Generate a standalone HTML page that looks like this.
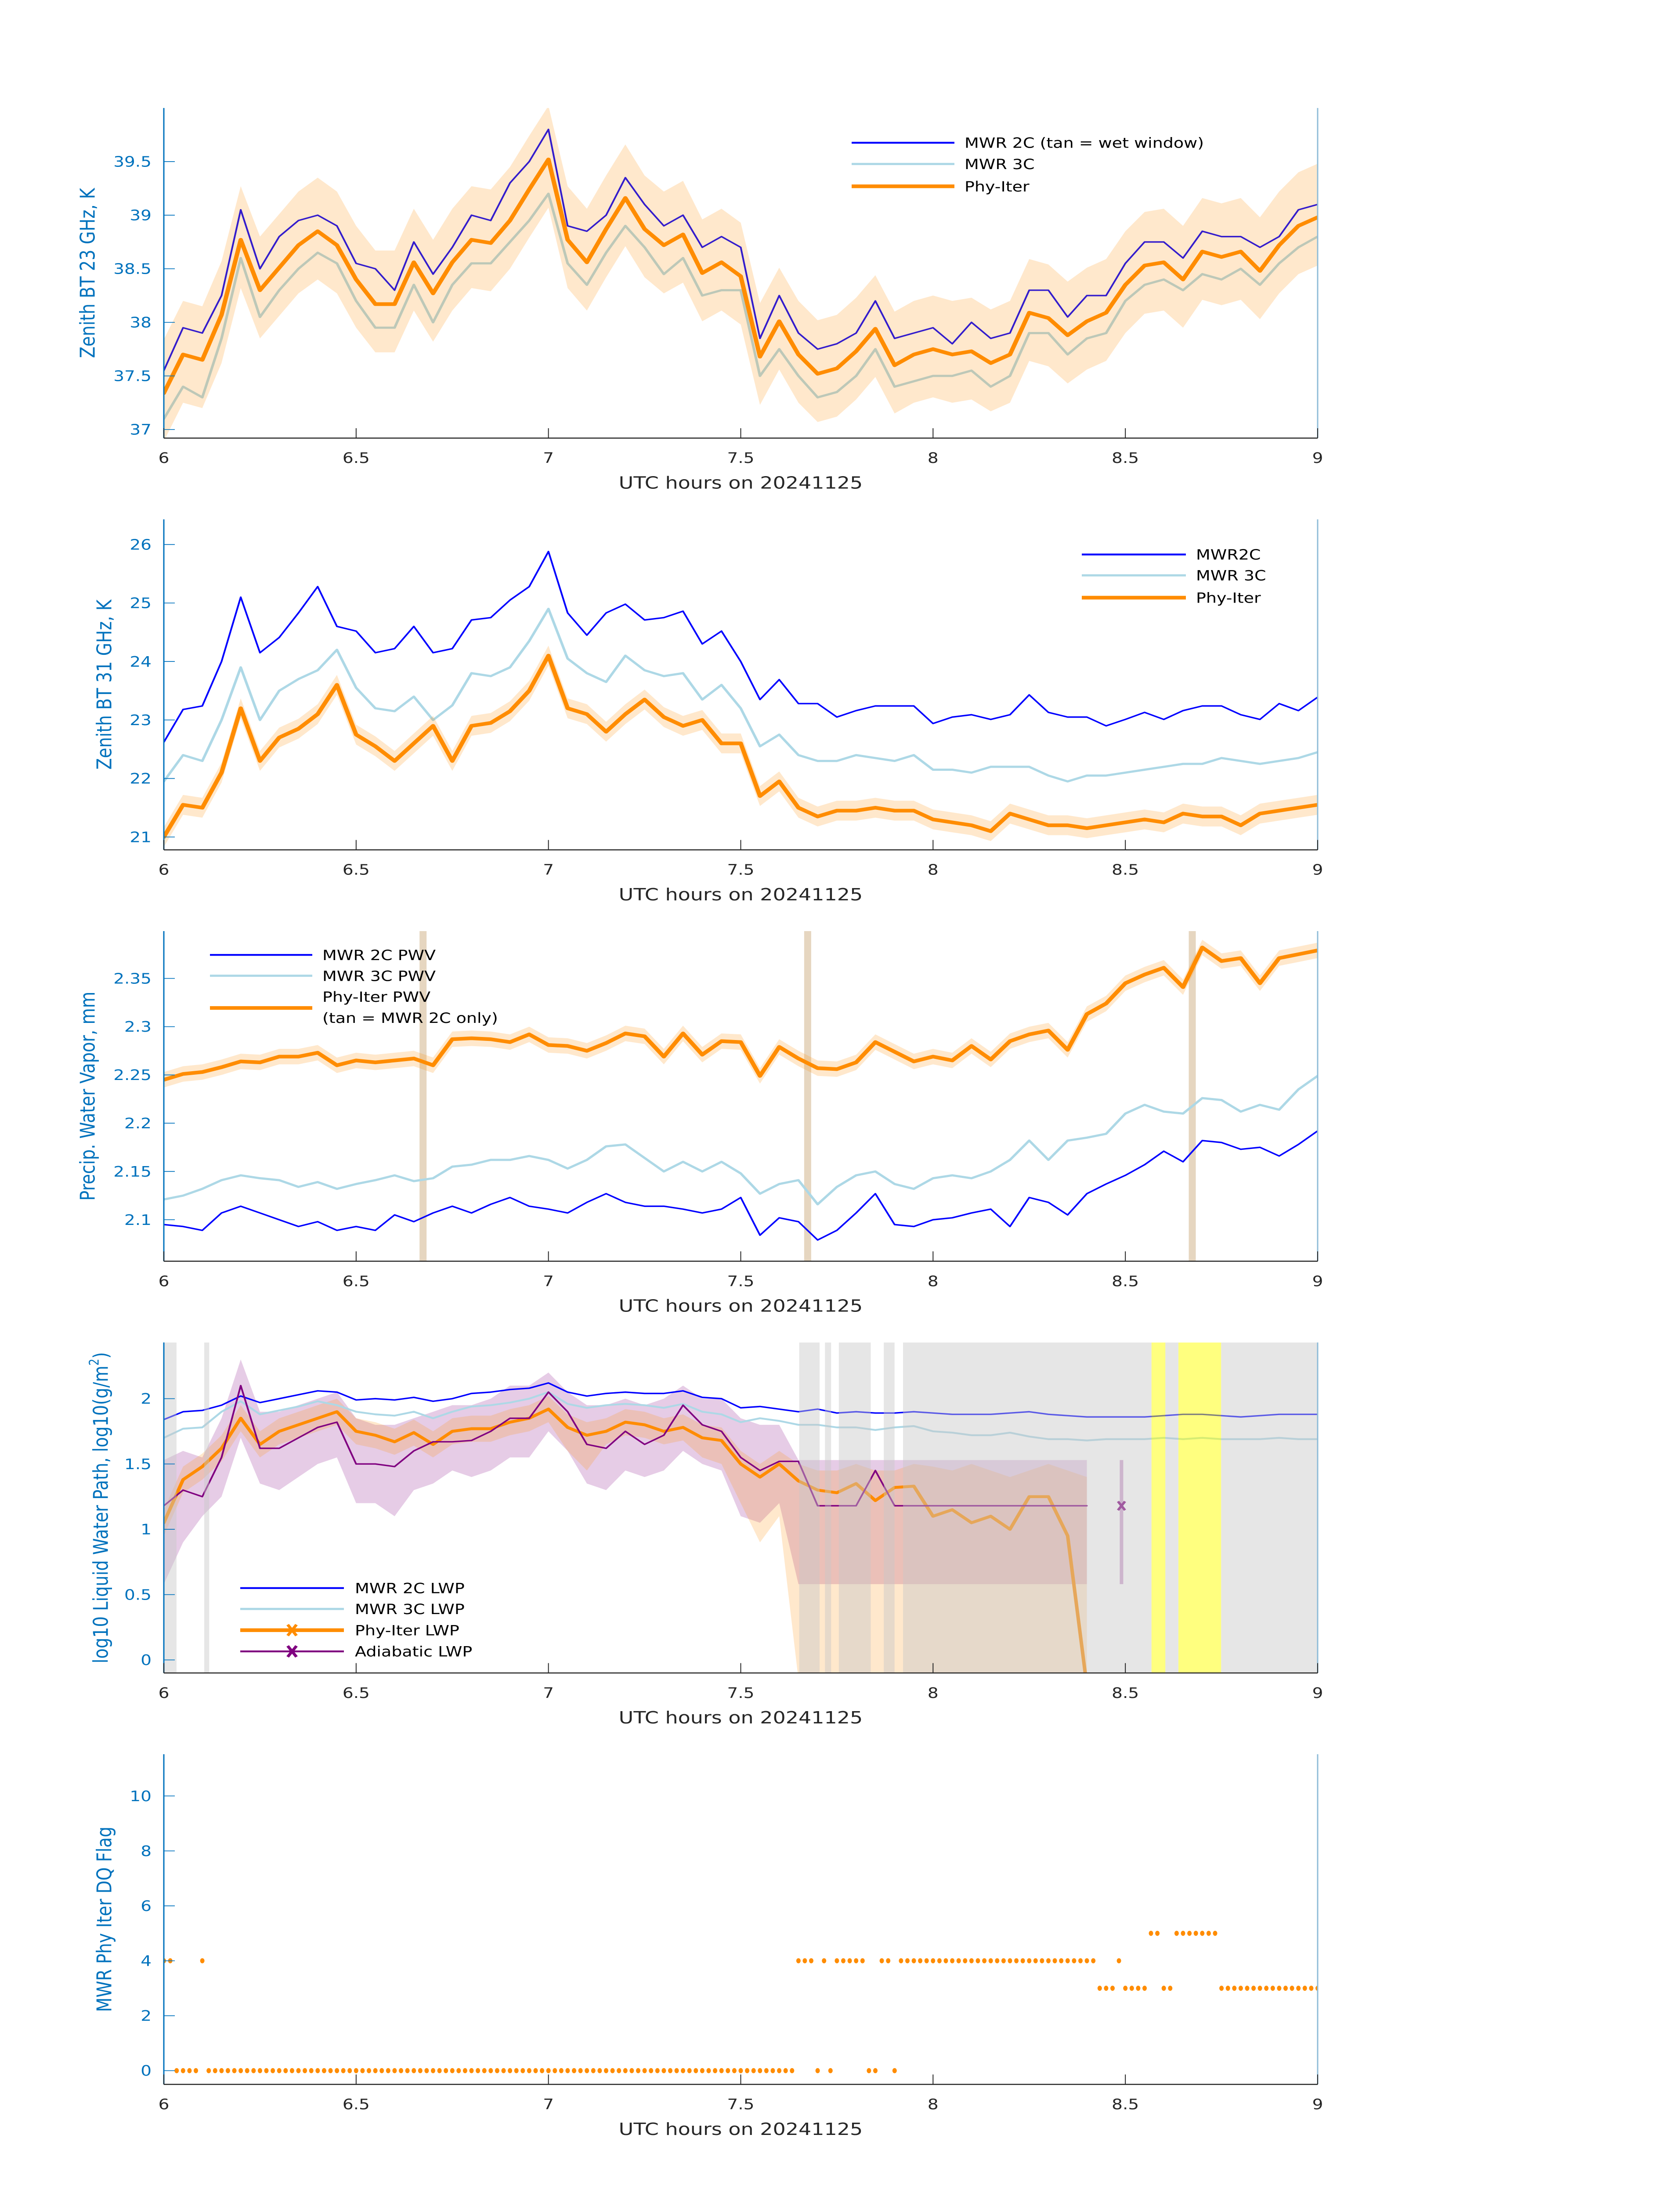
<!DOCTYPE html>
<html><head><meta charset="utf-8"><style>
html,body{margin:0;padding:0;background:#fff;width:100%;height:100%;overflow:hidden;}
svg{display:block;position:fixed;left:0;top:0;width:100vw;height:100vh;font-family:"DejaVu Sans","Liberation Sans",sans-serif;}
</style></head><body>
<svg id="fig" xmlns="http://www.w3.org/2000/svg" viewBox="0 0 3825 6000" preserveAspectRatio="none"></svg>
<script>
// ---------------- DATA (time grid: 6.00 .. 9.00 h every 0.05 h, 61 samples) ----------------
const p1Mwr2c = [37.55,37.95,37.9,38.25,39.05,38.5,38.8,38.95,39.0,38.9,38.55,38.5,38.3,38.75,38.45,38.7,39.0,38.95,39.3,39.5,39.8,38.9,38.85,39.0,39.35,39.1,38.9,39.0,38.7,38.8,38.7,37.85,38.25,37.9,37.75,37.8,37.9,38.2,37.85,37.9,37.95,37.8,38.0,37.85,37.9,38.3,38.3,38.05,38.25,38.25,38.55,38.75,38.75,38.6,38.85,38.8,38.8,38.7,38.8,39.05,39.1];
const p1Mwr3c = [37.1,37.4,37.3,37.85,38.6,38.05,38.3,38.5,38.65,38.55,38.2,37.95,37.95,38.35,38.0,38.35,38.55,38.55,38.75,38.95,39.2,38.55,38.35,38.65,38.9,38.7,38.45,38.6,38.25,38.3,38.3,37.5,37.75,37.5,37.3,37.35,37.5,37.75,37.4,37.45,37.5,37.5,37.55,37.4,37.5,37.9,37.9,37.7,37.85,37.9,38.2,38.35,38.4,38.3,38.45,38.4,38.5,38.35,38.55,38.7,38.8];
const p1Phy = [37.34,37.7,37.65,38.07,38.77,38.3,38.51,38.72,38.85,38.72,38.4,38.17,38.17,38.56,38.27,38.56,38.77,38.74,38.95,39.24,39.52,38.77,38.56,38.87,39.16,38.87,38.72,38.82,38.46,38.56,38.43,37.68,38.01,37.7,37.52,37.57,37.73,37.94,37.6,37.7,37.75,37.7,37.73,37.62,37.7,38.09,38.04,37.88,38.01,38.09,38.35,38.53,38.56,38.4,38.66,38.61,38.66,38.48,38.72,38.9,38.98];
const p1UncLo = 0.45, p1UncHi = 0.5;

const p2Mwr2c = [22.62,23.18,23.24,24.0,25.1,24.15,24.41,24.83,25.28,24.6,24.52,24.15,24.22,24.6,24.15,24.22,24.71,24.75,25.05,25.28,25.88,24.83,24.45,24.83,24.98,24.71,24.75,24.86,24.3,24.52,24.0,23.35,23.69,23.28,23.28,23.05,23.16,23.24,23.24,23.24,22.94,23.05,23.09,23.01,23.09,23.43,23.13,23.05,23.05,22.9,23.01,23.13,23.01,23.16,23.24,23.24,23.09,23.01,23.28,23.16,23.39];
const p2Mwr3c = [21.95,22.4,22.3,23.0,23.9,23.0,23.5,23.7,23.85,24.2,23.55,23.2,23.15,23.4,23.0,23.25,23.8,23.75,23.9,24.35,24.9,24.05,23.8,23.65,24.1,23.85,23.75,23.8,23.35,23.6,23.2,22.55,22.75,22.4,22.3,22.3,22.4,22.35,22.3,22.4,22.15,22.15,22.1,22.2,22.2,22.2,22.05,21.95,22.05,22.05,22.1,22.15,22.2,22.25,22.25,22.35,22.3,22.25,22.3,22.35,22.45];
const p2Phy = [21.0,21.55,21.5,22.1,23.2,22.3,22.7,22.85,23.1,23.6,22.75,22.55,22.3,22.6,22.9,22.3,22.9,22.95,23.15,23.5,24.1,23.2,23.1,22.8,23.1,23.35,23.05,22.9,23.0,22.6,22.6,21.7,21.95,21.5,21.35,21.45,21.45,21.5,21.45,21.45,21.3,21.25,21.2,21.1,21.4,21.3,21.2,21.2,21.15,21.2,21.25,21.3,21.25,21.4,21.35,21.35,21.2,21.4,21.45,21.5,21.55];
const p2Unc = 0.17;

const p3Mwr2c = [2.095,2.093,2.089,2.107,2.114,2.107,2.1,2.093,2.098,2.089,2.093,2.089,2.105,2.098,2.107,2.114,2.107,2.116,2.123,2.114,2.111,2.107,2.118,2.127,2.118,2.114,2.114,2.111,2.107,2.111,2.123,2.084,2.102,2.098,2.079,2.089,2.107,2.127,2.095,2.093,2.1,2.102,2.107,2.111,2.093,2.123,2.118,2.105,2.127,2.137,2.146,2.157,2.171,2.16,2.182,2.18,2.173,2.175,2.166,2.178,2.192];
const p3Mwr3c = [2.121,2.125,2.132,2.141,2.146,2.143,2.141,2.134,2.139,2.132,2.137,2.141,2.146,2.14,2.143,2.155,2.157,2.162,2.162,2.166,2.162,2.153,2.162,2.176,2.178,2.164,2.15,2.16,2.15,2.16,2.148,2.127,2.137,2.141,2.116,2.134,2.146,2.15,2.137,2.132,2.143,2.146,2.143,2.15,2.162,2.182,2.162,2.182,2.185,2.189,2.21,2.219,2.212,2.21,2.226,2.224,2.212,2.219,2.214,2.235,2.249];
const p3Phy = [2.245,2.251,2.253,2.258,2.264,2.263,2.269,2.269,2.273,2.26,2.265,2.263,2.265,2.267,2.26,2.287,2.288,2.287,2.284,2.292,2.281,2.28,2.275,2.283,2.293,2.29,2.269,2.293,2.271,2.285,2.284,2.249,2.279,2.267,2.257,2.256,2.263,2.284,2.274,2.264,2.269,2.265,2.28,2.266,2.285,2.292,2.296,2.276,2.313,2.324,2.345,2.354,2.361,2.341,2.382,2.368,2.371,2.345,2.371,2.375,2.379];
const p3Unc = 0.008;
const p3WetWindows = [6.674, 7.674, 8.674];

const p4Mwr2c = [1.84,1.9,1.91,1.95,2.02,1.97,2.0,2.03,2.06,2.05,1.99,2.0,1.99,2.01,1.98,2.0,2.04,2.05,2.07,2.08,2.12,2.05,2.02,2.04,2.05,2.04,2.04,2.06,2.01,2.0,1.93,1.94,1.92,1.9,1.92,1.89,1.9,1.89,1.89,1.9,1.89,1.88,1.88,1.88,1.89,1.9,1.88,1.87,1.86,1.86,1.86,1.86,1.87,1.88,1.88,1.87,1.86,1.87,1.88,1.88,1.88];
const p4Mwr3c = [1.7,1.77,1.78,1.9,1.98,1.88,1.91,1.94,1.98,1.95,1.9,1.88,1.87,1.9,1.85,1.9,1.94,1.95,1.97,2.0,2.05,1.96,1.93,1.95,1.96,1.95,1.93,1.96,1.9,1.88,1.82,1.85,1.83,1.8,1.8,1.78,1.78,1.76,1.78,1.79,1.75,1.74,1.72,1.72,1.74,1.71,1.69,1.69,1.68,1.69,1.69,1.69,1.7,1.69,1.7,1.69,1.69,1.69,1.7,1.69,1.69];
const p4Phy = [1.05,1.38,1.48,1.62,1.85,1.65,1.75,1.8,1.85,1.9,1.75,1.72,1.67,1.74,1.65,1.75,1.77,1.77,1.82,1.85,1.92,1.78,1.72,1.75,1.82,1.8,1.75,1.78,1.7,1.68,1.5,1.4,1.5,1.37,1.3,1.28,1.35,1.22,1.32,1.33,1.1,1.15,1.05,1.1,1.0,1.25,1.25,0.95,-0.2,null,null,null,null,null,null,null,null,null,null,null,null];
const p4PhyLo = [0.95,1.28,1.38,1.52,1.75,1.55,1.65,1.7,1.75,1.8,1.65,1.62,1.57,1.64,1.55,1.65,1.67,1.67,1.72,1.75,1.82,1.6,1.45,1.65,1.72,1.7,1.65,1.68,1.55,1.5,1.2,0.9,1.1,-0.15,-0.15,-0.15,-0.15,-0.15,-0.15,-0.15,-0.15,-0.15,-0.15,-0.15,-0.15,-0.15,-0.15,-0.15,-0.15,null,null,null,null,null,null,null,null,null,null,null,null];
const p4PhyHi = [1.15,1.48,1.58,1.72,1.95,1.75,1.85,1.9,1.95,2.0,1.85,1.82,1.77,1.84,1.75,1.85,1.87,1.87,1.92,1.95,2.02,1.88,1.82,1.85,1.92,1.9,1.85,1.88,1.8,1.78,1.6,1.5,1.6,1.5,1.45,1.45,1.5,1.45,1.45,1.5,1.48,1.45,1.5,1.45,1.4,1.45,1.5,1.45,1.4,null,null,null,null,null,null,null,null,null,null,null,null];
const p4Adiab = [1.18,1.3,1.25,1.55,2.1,1.62,1.62,1.7,1.78,1.82,1.5,1.5,1.48,1.6,1.67,1.67,1.68,1.75,1.85,1.85,2.05,1.9,1.65,1.62,1.75,1.65,1.72,1.95,1.8,1.75,1.55,1.45,1.52,1.52,1.18,1.18,1.18,1.45,1.18,1.18,1.18,1.18,1.18,1.18,1.18,1.18,1.18,1.18,1.18,null,null,null,null,null,null,null,null,null,null,null,null];
const p4AdiabLo = [0.58,0.9,1.1,1.25,1.7,1.35,1.3,1.4,1.5,1.55,1.2,1.2,1.1,1.3,1.35,1.45,1.4,1.45,1.55,1.55,1.75,1.6,1.35,1.3,1.45,1.4,1.45,1.6,1.5,1.45,1.1,1.05,1.2,0.58,0.58,0.58,0.58,0.58,0.58,0.58,0.58,0.58,0.58,0.58,0.58,0.58,0.58,0.58,0.58,null,null,null,null,null,null,null,null,null,null,null,null];
const p4AdiabHi = [1.53,1.6,1.55,1.85,2.3,1.9,1.9,1.95,2.0,2.05,1.85,1.8,1.8,1.85,1.9,1.95,1.95,2.0,2.1,2.1,2.2,2.05,1.95,1.95,2.0,1.95,2.0,2.1,2.0,2.0,1.85,1.8,1.8,1.53,1.53,1.53,1.53,1.53,1.53,1.53,1.53,1.53,1.53,1.53,1.53,1.53,1.53,1.53,1.53,null,null,null,null,null,null,null,null,null,null,null,null];
const p4AdiabPointT = 8.49, p4AdiabPointV = 1.18, p4AdiabPointLo = 0.58, p4AdiabPointHi = 1.53;
const p4GraySpans = [[6.0,6.033],[6.105,6.118],[7.652,7.705],[7.719,7.735],[7.755,7.838],[7.872,7.9],[7.922,8.568],[8.604,8.638],[8.749,9.0]];
const p4YellowSpans = [[8.568,8.604],[8.638,8.749]];

// DQ flag, one value per minute from 6:00 to 9:00 (181 samples)
const p5FlagValues = ("4400004" + "0".repeat(92) + "444040444440044" + "0" + "4".repeat(31) + "3334" + "3333" + "5533" + "5555555" + "3".repeat(16)).split("").map(Number);

const xTicks = [6,6.5,7,7.5,8,8.5,9];
const xTickLabels = ["6","6.5","7","7.5","8","8.5","9"];
const p1YTicks = [37,37.5,38,38.5,39,39.5];
const p2YTicks = [21,22,23,24,25,26];
const p3YTicks = [2.1,2.15,2.2,2.25,2.3,2.35];
const p4YTicks = [0,0.5,1,1.5,2];
const p5YTicks = [0,2,4,6,8,10];

// ---------------- RENDERING ----------------
const NS = "http://www.w3.org/2000/svg";
const svg = document.getElementById("fig");
const X0 = 373, X1 = 3000, XMIN = 6, XMAX = 9;
const BLUE = "#0000ff", LBLUE = "#add8e6", ORANGE = "#ff8c00", PURPLE = "#800080", AXBLUE = "#0072bd", DARK = "#262626";
function el(tag, attrs, parent) {
  const e = document.createElementNS(NS, tag);
  for (const k in attrs) e.setAttribute(k, attrs[k]);
  (parent || svg).appendChild(e);
  return e;
}
function sx(t) { return X0 + (t - XMIN) / (XMAX - XMIN) * (X1 - X0); }
function gridTime(n) { const a = []; for (let i = 0; i < n; i++) a.push(XMIN + i * (XMAX - XMIN) / (n - 1)); return a; }
function linePath(ts, vs, sy) {
  let d = "", pen = false;
  for (let i = 0; i < vs.length; i++) {
    if (vs[i] === null || vs[i] === undefined) { pen = false; continue; }
    d += (pen ? "L" : "M") + sx(ts[i]).toFixed(1) + "," + sy(vs[i]).toFixed(1);
    pen = true;
  }
  return d;
}
function bandPath(ts, lo, hi, sy) {
  let d = "", seg = [];
  const flush = () => {
    if (seg.length > 1) {
      d += "M" + seg.map(i => sx(ts[i]).toFixed(1) + "," + sy(hi[i]).toFixed(1)).join("L");
      d += "L" + seg.slice().reverse().map(i => sx(ts[i]).toFixed(1) + "," + sy(lo[i]).toFixed(1)).join("L") + "Z";
    }
    seg = [];
  };
  for (let i = 0; i < lo.length; i++) {
    if (lo[i] === null || hi[i] === null) flush(); else seg.push(i);
  }
  flush();
  return d;
}
function makePanel(k, top, bot, ymin, ymax, yTicks, yLabelText, yLabelX, tickFmt) {
  const g = el("g", {});
  
  
  const sy = v => bot - (v - ymin) / (ymax - ymin) * (bot - top);
  const clipId = "clip" + k;
  const cp = el("clipPath", { id: clipId }, g);
  el("rect", { x: X0, y: top, width: X1 - X0, height: bot - top }, cp);
  const plot = el("g", { "clip-path": "url(#" + clipId + ")" }, g);
  
  
  const ax = el("g", {}, g);
  
  
  el("line", { x1: X0, y1: top, x2: X0, y2: bot, stroke: AXBLUE, "stroke-width": 3 }, ax);
  el("line", { x1: X1, y1: top, x2: X1, y2: bot, stroke: "#8fbcd8", "stroke-width": 3 }, ax);
  el("line", { x1: X0, y1: bot, x2: X1, y2: bot, stroke: DARK, "stroke-width": 3 }, ax);
  xTicks.forEach((t, i) => {
    const x = sx(t);
    el("line", { x1: x, y1: bot, x2: x, y2: bot - 27, stroke: DARK, "stroke-width": 2 }, ax);
    const tx = el("text", { x: x, y: bot + 68, "text-anchor": "middle", "font-size": 39, fill: DARK }, ax);
    
    
    tx.textContent = xTickLabels[i];
  });
  yTicks.forEach(v => {
    const y = sy(v);
    el("line", { x1: X0, y1: y, x2: X0 + 25, y2: y, stroke: AXBLUE, "stroke-width": 2 }, ax);
    const tx = el("text", { x: 345, y: y + 14, "text-anchor": "end", "font-size": 39, fill: AXBLUE }, ax);
    
    
    tx.textContent = tickFmt ? tickFmt(v) : String(v);
  });
  const xl = el("text", { x: (X0 + X1) / 2, y: bot + 138, "text-anchor": "middle", "font-size": 46, fill: DARK }, ax);
  
  
  xl.textContent = "UTC hours on 20241125";
  const cy = (top + bot) / 2;
  const yl = el("text", { x: yLabelX, y: cy, "text-anchor": "middle", "dominant-baseline": "middle", "font-size": 46, fill: AXBLUE, transform: "rotate(-90 " + yLabelX + " " + cy + ")" }, ax);
  
  
  if (Array.isArray(yLabelText)) {
    yl.textContent = yLabelText[0];
    const sup = el("tspan", { "baseline-shift": "super", "font-size": 30 }, yl);
    sup.textContent = yLabelText[1];
    const rest = el("tspan", {}, yl);
    rest.textContent = yLabelText[2];
  } else yl.textContent = yLabelText;
  return { plot, sy, g };
}
function addPath(parent, d, attrs, name) {
  const p = el("path", Object.assign({ d: d, fill: "none", "stroke-linejoin": "round", "stroke-linecap": "round" }, attrs), parent);
  
  
  return p;
}
function legend(parent, x1, x2, tx, entries) {
  const lg = el("g", {}, parent);
  
  
  entries.forEach(e => {
    const row = el("g", {}, lg);
    
    
    if (e.color) el("line", { x1: x1, y1: e.y, x2: x2, y2: e.y, stroke: e.color, "stroke-width": e.w }, row);
    if (e.marker) {
      const mx = (x1 + x2) / 2, m = 10;
      el("path", { d: `M${mx - m},${e.y - m * 1.5}L${mx + m},${e.y + m * 1.5}M${mx + m},${e.y - m * 1.5}L${mx - m},${e.y + m * 1.5}`, stroke: e.color, "stroke-width": 7 }, row);
    }
    const t = el("text", { x: tx, y: e.ty !== undefined ? e.ty : e.y + 14, "font-size": 38, fill: "#000" }, row);
    t.textContent = e.label;
  });
}

// ---- Panel 1 ----
{
  const P = makePanel(1, 295, 1197, 36.92, 40.0, p1YTicks, "Zenith BT 23 GHz, K", 203);
  const ts = gridTime(p1Phy.length);
  addPath(P.plot, linePath(ts, p1Mwr3c, P.sy), { stroke: LBLUE, "stroke-width": 6 }, "mwr-3c-line");
  addPath(P.plot, linePath(ts, p1Mwr2c, P.sy), { stroke: BLUE, "stroke-width": 4 }, "mwr-2c-line");
  const lo = p1Phy.map(v => v - p1UncLo), hi = p1Phy.map(v => v + p1UncHi);
  const b = el("path", { d: bandPath(ts, lo, hi, P.sy), fill: ORANGE, "fill-opacity": 0.2 }, P.plot);
  
  
  addPath(P.plot, linePath(ts, p1Phy, P.sy), { stroke: ORANGE, "stroke-width": 10 }, "phy-iter-line");
  legend(P.g, 1939, 2173, 2196, [
    { y: 390, color: BLUE, w: 5, label: "MWR 2C (tan = wet window)" },
    { y: 448, color: LBLUE, w: 6, label: "MWR 3C" },
    { y: 509, color: ORANGE, w: 10, label: "Phy-Iter" }]);
}
// ---- Panel 2 ----
{
  const P = makePanel(2, 1419, 2322, 20.78, 26.43, p2YTicks, "Zenith BT 31 GHz, K", 241);
  const ts = gridTime(p2Phy.length);
  addPath(P.plot, linePath(ts, p2Mwr3c, P.sy), { stroke: LBLUE, "stroke-width": 6 }, "mwr-3c-line");
  addPath(P.plot, linePath(ts, p2Mwr2c, P.sy), { stroke: BLUE, "stroke-width": 4 }, "mwr-2c-line");
  const lo = p2Phy.map(v => v - p2Unc), hi = p2Phy.map(v => v + p2Unc);
  const b = el("path", { d: bandPath(ts, lo, hi, P.sy), fill: ORANGE, "fill-opacity": 0.2 }, P.plot);
  
  
  addPath(P.plot, linePath(ts, p2Phy, P.sy), { stroke: ORANGE, "stroke-width": 10 }, "phy-iter-line");
  legend(P.g, 2463, 2700, 2723, [
    { y: 1515, color: BLUE, w: 5, label: "MWR2C" },
    { y: 1572, color: LBLUE, w: 6, label: "MWR 3C" },
    { y: 1633, color: ORANGE, w: 10, label: "Phy-Iter" }]);
}
// ---- Panel 3 ----
{
  const P = makePanel(3, 2544, 3446, 2.057, 2.399, p3YTicks, "Precip. Water Vapor, mm", 203);
  const ts = gridTime(p3Phy.length);
  p3WetWindows.forEach(t => {
    const r = el("rect", { x: sx(t) - 8, y: 2544, width: 16, height: 902, fill: "#d2b48c", "fill-opacity": 0.55 }, P.plot);
    
    
  });
  addPath(P.plot, linePath(ts, p3Mwr3c, P.sy), { stroke: LBLUE, "stroke-width": 6 }, "mwr-3c-pwv-line");
  addPath(P.plot, linePath(ts, p3Mwr2c, P.sy), { stroke: BLUE, "stroke-width": 4 }, "mwr-2c-pwv-line");
  const lo = p3Phy.map(v => v - p3Unc), hi = p3Phy.map(v => v + p3Unc);
  const b = el("path", { d: bandPath(ts, lo, hi, P.sy), fill: ORANGE, "fill-opacity": 0.2 }, P.plot);
  
  
  addPath(P.plot, linePath(ts, p3Phy, P.sy), { stroke: ORANGE, "stroke-width": 10 }, "phy-iter-pwv-line");
  legend(P.g, 478, 711, 734, [
    { y: 2609, color: BLUE, w: 5, label: "MWR 2C PWV" },
    { y: 2666, color: LBLUE, w: 6, label: "MWR 3C PWV" },
    { y: 2754, color: ORANGE, w: 10, label: "Phy-Iter PWV", ty: 2737 },
    { y: 2795, color: null, label: "(tan = MWR 2C only)", ty: 2795 }]);
}
// ---- Panel 4 ----
{
  const P = makePanel(4, 3668, 4571, -0.1, 2.43, p4YTicks, ["log10 Liquid Water Path, log10(g/m", "2", ")"], 233, v => String(v));
  const ts = gridTime(p4Phy.length);
  const bp = el("path", { d: bandPath(ts, p4AdiabLo, p4AdiabHi, P.sy), fill: PURPLE, "fill-opacity": 0.2 }, P.plot);
  
  
  const bo = el("path", { d: bandPath(ts, p4PhyLo, p4PhyHi, P.sy), fill: ORANGE, "fill-opacity": 0.2 }, P.plot);
  
  
  addPath(P.plot, linePath(ts, p4Mwr3c, P.sy), { stroke: LBLUE, "stroke-width": 5 }, "mwr-3c-lwp-line");
  addPath(P.plot, linePath(ts, p4Mwr2c, P.sy), { stroke: BLUE, "stroke-width": 4 }, "mwr-2c-lwp-line");
  addPath(P.plot, linePath(ts, p4Phy, P.sy), { stroke: ORANGE, "stroke-width": 8 }, "phy-iter-lwp-line");
  addPath(P.plot, linePath(ts, p4Adiab, P.sy), { stroke: PURPLE, "stroke-width": 4 }, "adiabatic-lwp-line");
  const px = sx(p4AdiabPointT), py = P.sy(p4AdiabPointV);
  el("line", { x1: px, y1: P.sy(p4AdiabPointLo), x2: px, y2: P.sy(p4AdiabPointHi), stroke: PURPLE, "stroke-opacity": 0.35, "stroke-width": 8 }, P.plot);
  const mk = el("path", { d: `M${px - 8},${py - 12}L${px + 8},${py + 12}M${px + 8},${py - 12}L${px - 8},${py + 12}`, stroke: PURPLE, "stroke-width": 6 }, P.plot);
  
  
  p4GraySpans.forEach(s => {
    const r = el("rect", { x: sx(s[0]), y: 3668, width: sx(s[1]) - sx(s[0]), height: 903, fill: "#c8c8c8", "fill-opacity": 0.45 }, P.plot);
    
    
  });
  p4YellowSpans.forEach(s => {
    const r = el("rect", { x: sx(s[0]), y: 3668, width: sx(s[1]) - sx(s[0]), height: 903, fill: "#ffff00", "fill-opacity": 0.5 }, P.plot);
    
    
  });
  legend(P.g, 547, 783, 808, [
    { y: 4339, color: BLUE, w: 5, label: "MWR 2C LWP" },
    { y: 4396, color: LBLUE, w: 6, label: "MWR 3C LWP" },
    { y: 4454, color: ORANGE, w: 10, label: "Phy-Iter LWP", marker: true },
    { y: 4512, color: PURPLE, w: 5, label: "Adiabatic LWP", marker: true }]);
}
// ---- Panel 5 ----
{
  const P = makePanel(5, 4793, 5695, -0.5, 11.52, p5YTicks, "MWR Phy Iter DQ Flag", 241);
  const ts = gridTime(p5FlagValues.length);
  p5FlagValues.forEach((v, i) => {
    const c = el("ellipse", { cx: sx(ts[i]).toFixed(1), cy: P.sy(v).toFixed(1), rx: 5, ry: 7, fill: ORANGE }, P.plot);
    
    
  });
}
</script>
</body></html>
